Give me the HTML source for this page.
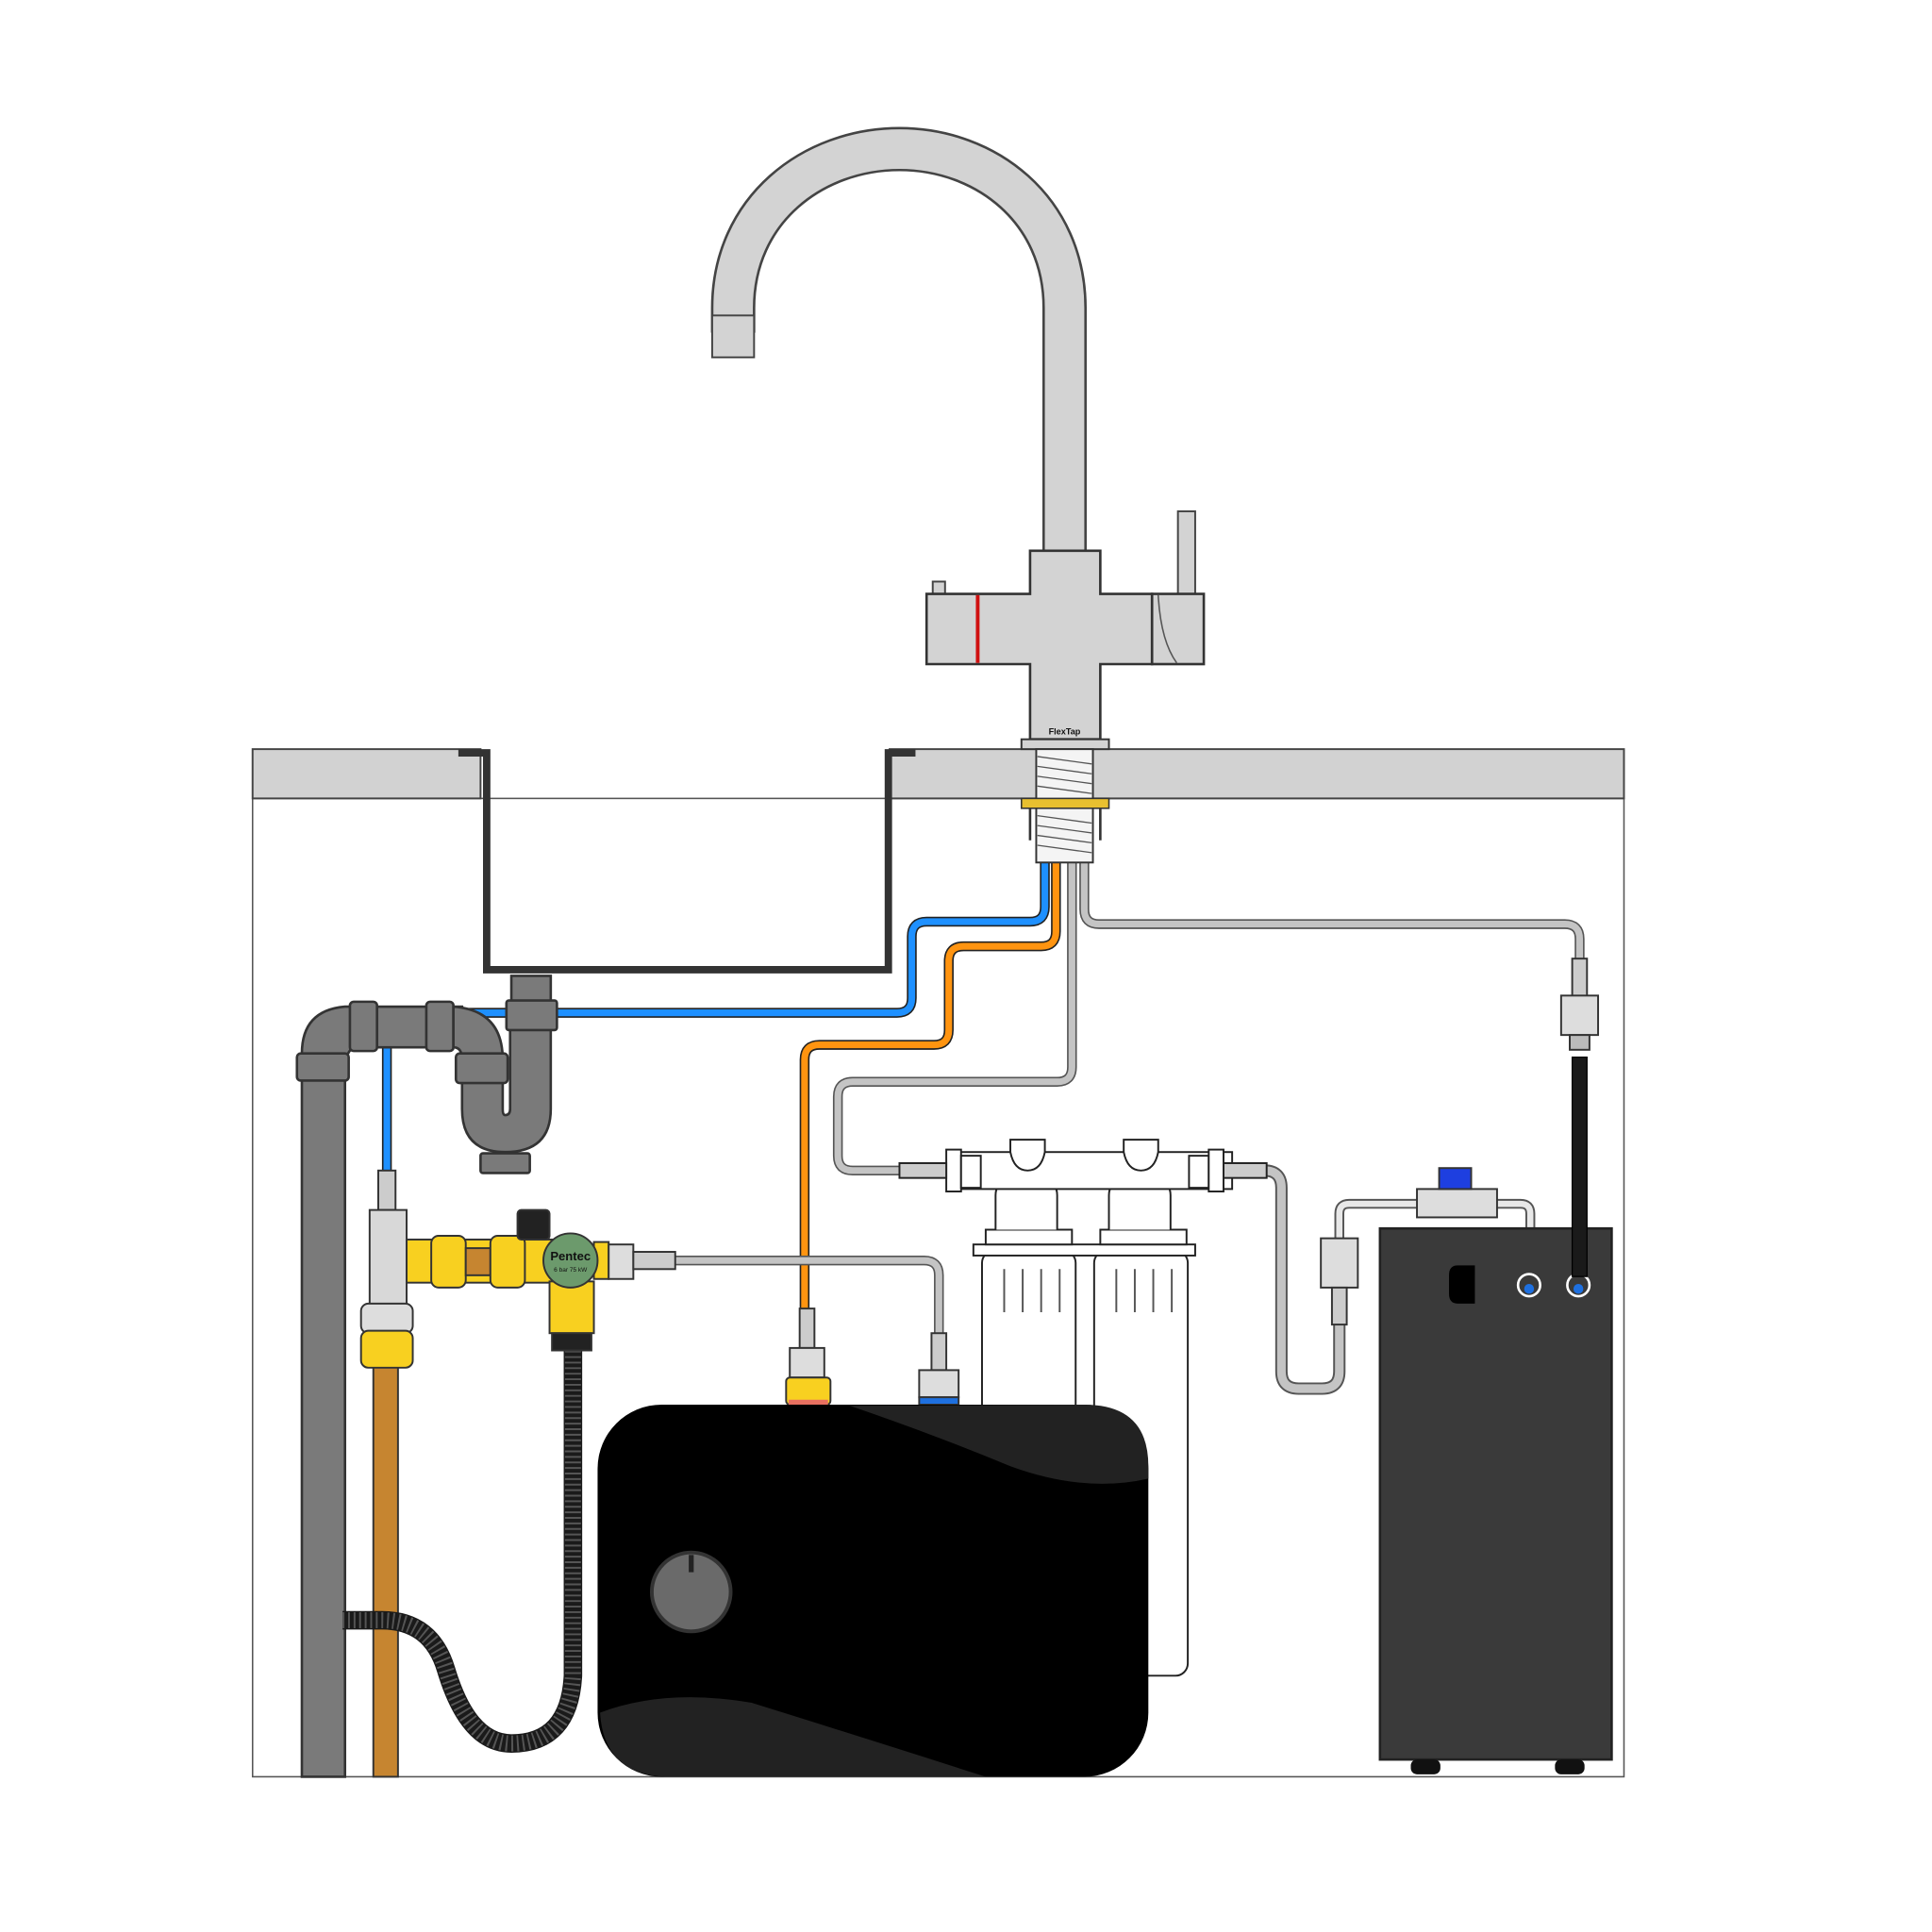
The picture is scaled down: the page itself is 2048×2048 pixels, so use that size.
<!DOCTYPE html>
<html><head><meta charset="utf-8"><style>html,body{margin:0;padding:0;background:#fff}svg{display:block}</style></head><body>
<svg width="2048" height="2048" viewBox="0 0 1568 1568" xmlns="http://www.w3.org/2000/svg" font-family="Liberation Sans, sans-serif">
<!-- cabinet -->
<rect x="205" y="648" width="1113" height="794" fill="#fff" stroke="#555" stroke-width="1.2"/>
<!-- countertop -->
<rect x="205" y="608" width="185" height="40" fill="#d2d2d2" stroke="#444" stroke-width="1.5"/>
<rect x="722" y="608" width="596" height="40" fill="#d2d2d2" stroke="#444" stroke-width="1.5"/>
<!-- sink -->
<path d="M372 611 H395 V787 H721 V611 H743" fill="none" stroke="#333" stroke-width="6"/>
<!-- pipes from tap -->
<g fill="none" stroke-linejoin="round">
<path d="M848 700 V736 Q848 748 836 748 H752 Q740 748 740 760 V810 Q740 822 728 822 H326 Q314 822 314 834 V950" stroke="#222" stroke-width="8"/>
<path d="M848 700 V736 Q848 748 836 748 H752 Q740 748 740 760 V810 Q740 822 728 822 H326 Q314 822 314 834 V950" stroke="#1e90ff" stroke-width="5.5"/>
<path d="M857 700 V756 Q857 768 845 768 H782 Q770 768 770 780 V836 Q770 848 758 848 H665 Q653 848 653 860 V1062" stroke="#222" stroke-width="8"/>
<path d="M857 700 V756 Q857 768 845 768 H782 Q770 768 770 780 V836 Q770 848 758 848 H665 Q653 848 653 860 V1062" stroke="#ff9410" stroke-width="5.5"/>
<path d="M870 700 V866 Q870 878 858 878 H692 Q680 878 680 890 V938 Q680 950 692 950 H735" stroke="#555" stroke-width="8"/>
<path d="M870 700 V866 Q870 878 858 878 H692 Q680 878 680 890 V938 Q680 950 692 950 H735" stroke="#c4c4c4" stroke-width="5.5"/>
<path d="M880 700 V738 Q880 750 892 750 H1270 Q1282 750 1282 762 V780" stroke="#555" stroke-width="8"/>
<path d="M880 700 V738 Q880 750 892 750 H1270 Q1282 750 1282 762 V780" stroke="#c4c4c4" stroke-width="5.5"/>
<path d="M548 1023 H750 Q762 1023 762 1035 V1085" stroke="#555" stroke-width="8"/>
<path d="M548 1023 H750 Q762 1023 762 1035 V1085" stroke="#c4c4c4" stroke-width="5.5"/>
<path d="M1026 950 Q1040 950 1040 964 V1113 Q1040 1127 1054 1127 H1073 Q1087 1127 1087 1113 V1045" stroke="#555" stroke-width="10"/>
<path d="M1026 950 Q1040 950 1040 964 V1113 Q1040 1127 1054 1127 H1073 Q1087 1127 1087 1113 V1045" stroke="#c4c4c4" stroke-width="7"/>
<path d="M1087 1005 V985 Q1087 977 1095 977 H1150 M1215 977 H1234 Q1242 977 1242 985 V1035" stroke="#555" stroke-width="8"/>
<path d="M1087 1005 V985 Q1087 977 1095 977 H1150 M1215 977 H1234 Q1242 977 1242 985 V1035" stroke="#e8e8e8" stroke-width="5"/>
</g>
<!-- waste pipe -->
<g stroke="#333" stroke-width="2" fill="#7a7a7a">
<rect x="245" y="870" width="35" height="572"/>
<path d="M245 870 V855 Q245 820 280 817 H300 V850 H290 Q280 850 280 870 Z"/>
<rect x="241" y="855" width="42" height="22" rx="3"/>
<rect x="300" y="817" width="75" height="33"/>
<rect x="284" y="813" width="22" height="40" rx="3"/>
<rect x="346" y="813" width="22" height="40" rx="3"/>
<path d="M368 817 Q408 820 408 860 V870 H375 V860 Q375 850 368 850 Z"/>
<path d="M375 878 V900 Q375 935 410 935 Q447 935 447 900 V830 H414 V900 Q414 905 410 905 Q408 905 408 900 V878 Z"/>
<rect x="370" y="855" width="42" height="24" rx="3"/>
<rect x="390" y="936" width="40" height="16" rx="2"/>
<rect x="415" y="792" width="32" height="40"/>
<rect x="411" y="812" width="41" height="24" rx="2"/>
</g>
<!-- copper pipe -->
<rect x="303" y="1105" width="20" height="337" fill="#c68530" stroke="#333" stroke-width="1.5"/>
<!-- corrugated hose -->
<path d="M278 1315 H310 Q350 1315 362 1355 Q380 1415 415 1415 Q462 1415 465 1360 V1090" fill="none" stroke="#1a1a1a" stroke-width="15"/>
<path d="M278 1315 H310 Q350 1315 362 1355 Q380 1415 415 1415 Q462 1415 465 1360 V1090" fill="none" stroke="#555" stroke-width="13" stroke-dasharray="1.5 3"/>
<!-- valve assembly -->
<g stroke="#333" stroke-width="1.5">
<rect x="307" y="950" width="14" height="32" fill="#ccc"/>
<rect x="300" y="982" width="30" height="80" fill="#d8d8d8"/>
<rect x="330" y="1006" width="120" height="35" fill="#f8d020"/>
<rect x="350" y="1003" width="28" height="42" rx="6" fill="#f8d020"/>
<rect x="378" y="1013" width="20" height="22" fill="#c68530"/>
<rect x="398" y="1003" width="28" height="42" rx="6" fill="#f8d020"/>
<rect x="420" y="982" width="26" height="24" rx="3" fill="#222"/>
<rect x="446" y="1040" width="36" height="42" fill="#f8d020"/>
<rect x="448" y="1082" width="32" height="14" fill="#222"/>
<rect x="482" y="1008" width="12" height="30" fill="#f8d020"/>
<rect x="494" y="1010" width="20" height="28" fill="#ddd"/>
<rect x="514" y="1016" width="34" height="14" fill="#ccc"/>
<rect x="293" y="1058" width="42" height="24" rx="6" fill="#ddd"/>
<rect x="293" y="1080" width="42" height="30" rx="6" fill="#f8d020"/>
<circle cx="463" cy="1023" r="22" fill="#6c9a6c"/>
</g>
<text x="463" y="1023" font-size="10" font-weight="bold" text-anchor="middle" fill="#111">Pentec</text>
<text x="463" y="1032" font-size="5" text-anchor="middle" fill="#111">6 bar 75 kW</text>
<!-- filters (behind heater) -->
<g stroke="#222" stroke-width="1.5" fill="#fff">
<rect x="797" y="1015" width="76" height="350" rx="10"/>
<rect x="888" y="1015" width="76" height="345" rx="10"/>
<rect x="790" y="1010" width="180" height="9"/>
<rect x="800" y="998" width="70" height="12"/>
<rect x="893" y="998" width="70" height="12"/>
<path d="M808 998 V970 Q808 960 818 960 H848 Q858 960 858 970 V998"/>
<path d="M900 998 V970 Q900 960 910 960 H940 Q950 960 950 970 V998"/>
<rect x="775" y="935" width="225" height="30"/>
<path d="M820 935 V925 H848 V935 Q845 950 834 950 Q823 950 820 935Z"/>
<path d="M912 935 V925 H940 V935 Q937 950 926 950 Q915 950 912 935Z"/>
<rect x="768" y="933" width="12" height="34"/>
<rect x="780" y="938" width="16" height="26"/>
<rect x="965" y="938" width="16" height="26"/>
<rect x="981" y="933" width="12" height="34"/>
<rect x="730" y="944" width="38" height="12" fill="#ccc"/>
<rect x="993" y="944" width="35" height="12" fill="#ccc"/>
</g>
<g stroke="#555" stroke-width="1.5"><path d="M815 1030V1065M830 1030V1065M845 1030V1065M860 1030V1065M906 1030V1065M921 1030V1065M936 1030V1065M951 1030V1065"/></g>
<!-- heater fittings -->
<g stroke="#333" stroke-width="1.5">
<rect x="649" y="1062" width="12" height="32" fill="#ccc"/>
<rect x="641" y="1094" width="28" height="24" fill="#ddd"/>
<rect x="638" y="1118" width="36" height="22" rx="3" fill="#f8d020"/>
<rect x="756" y="1082" width="12" height="30" fill="#ccc"/>
<rect x="746" y="1112" width="32" height="22" fill="#ddd"/>
<rect x="746" y="1134" width="32" height="6" fill="#1e70e0"/>
</g>
<rect x="640" y="1136" width="32" height="5" fill="#e87060"/>
<!-- water heater -->
<rect x="485" y="1140" width="447" height="302" rx="52" fill="#000"/>
<path d="M690 1141 Q760 1165 820 1190 Q880 1212 932 1200 V1190 Q932 1140 880 1140 Z" fill="#222"/>
<path d="M487 1390 Q540 1370 610 1382 Q700 1410 800 1442 L540 1442 Q490 1440 487 1390 Z" fill="#222"/>
<circle cx="561" cy="1292" r="32" fill="#6a6a6a" stroke="#333" stroke-width="3"/>
<rect x="559" y="1262" width="4" height="14" fill="#222"/>
<!-- boiler -->
<rect x="1120" y="997" width="188" height="431" fill="#3a3a3a" stroke="#222" stroke-width="2"/>
<rect x="1145" y="1428" width="24" height="12" rx="5" fill="#111"/>
<rect x="1262" y="1428" width="24" height="12" rx="5" fill="#111"/>
<path d="M1183 1027 H1197 V1058 H1183 Q1176 1058 1176 1050 V1035 Q1176 1027 1183 1027Z" fill="#000"/>
<g stroke="#fff" stroke-width="2" fill="#3a3a3a">
<circle cx="1241" cy="1043" r="9"/><circle cx="1281" cy="1043" r="9"/></g>
<circle cx="1241" cy="1046" r="4" fill="#1e70e0"/><circle cx="1281" cy="1046" r="4" fill="#1e70e0"/>
<rect x="1276" y="858" width="12" height="178" fill="#1a1a1a" stroke="#000"/>
<g stroke="#333" stroke-width="1.5">
<rect x="1276" y="778" width="12" height="32" fill="#ccc"/>
<rect x="1267" y="808" width="30" height="32" fill="#ddd"/>
<rect x="1274" y="840" width="16" height="12" fill="#bbb"/>
<rect x="1072" y="1005" width="30" height="40" fill="#ddd"/>
<rect x="1081" y="1045" width="12" height="30" fill="#ccc"/>
<rect x="1150" y="965" width="65" height="23" fill="#ddd"/>
<rect x="1168" y="948" width="26" height="17" fill="#1e3fe0"/>
</g>
<!-- tap -->
<path d="M595 270 V250 C595 170 660 121 730 121 C800 121 864 170 864 250 V452" fill="none" stroke="#444" stroke-width="36"/>
<path d="M595 270 V250 C595 170 660 121 730 121 C800 121 864 170 864 250 V452" fill="none" stroke="#d3d3d3" stroke-width="32"/>
<rect x="578" y="256" width="34" height="34" fill="#d3d3d3" stroke="#444" stroke-width="1.5"/>
<rect x="956" y="415" width="14" height="70" fill="#d3d3d3" stroke="#444" stroke-width="1.5"/>
<rect x="757" y="472" width="10" height="12" fill="#d3d3d3" stroke="#444" stroke-width="1.5"/>
<path d="M836 447 H893 V482 H935 V539 H893 V600 H836 V539 H752 V482 H836 Z" fill="#d3d3d3" stroke="#333" stroke-width="2"/>
<rect x="935" y="482" width="42" height="57" fill="#d3d3d3" stroke="#333" stroke-width="2"/>
<path d="M940 483 Q942 520 955 538" fill="none" stroke="#555" stroke-width="1.2"/>
<rect x="792" y="483" width="3" height="55" fill="#d01010"/>
<text x="864" y="596" font-size="7" font-weight="bold" text-anchor="middle" fill="#111">FlexTap</text>
<rect x="829" y="600" width="71" height="8" fill="#d3d3d3" stroke="#333" stroke-width="1.5"/>
<rect x="841" y="608" width="46" height="92" fill="#f4f4f4" stroke="#333" stroke-width="1.5"/>
<g stroke="#555" stroke-width="1"><path d="M842 614L886 620M842 622L886 628M842 630L886 636M842 638L886 644M842 662L886 668M842 670L886 676M842 678L886 684M842 686L886 692"/></g>
<rect x="829" y="648" width="71" height="8" fill="#e8c030" stroke="#333" stroke-width="1.2"/>
<g stroke="#333" stroke-width="2"><path d="M836 656V682M893 656V682"/></g>
</svg>
</body></html>
